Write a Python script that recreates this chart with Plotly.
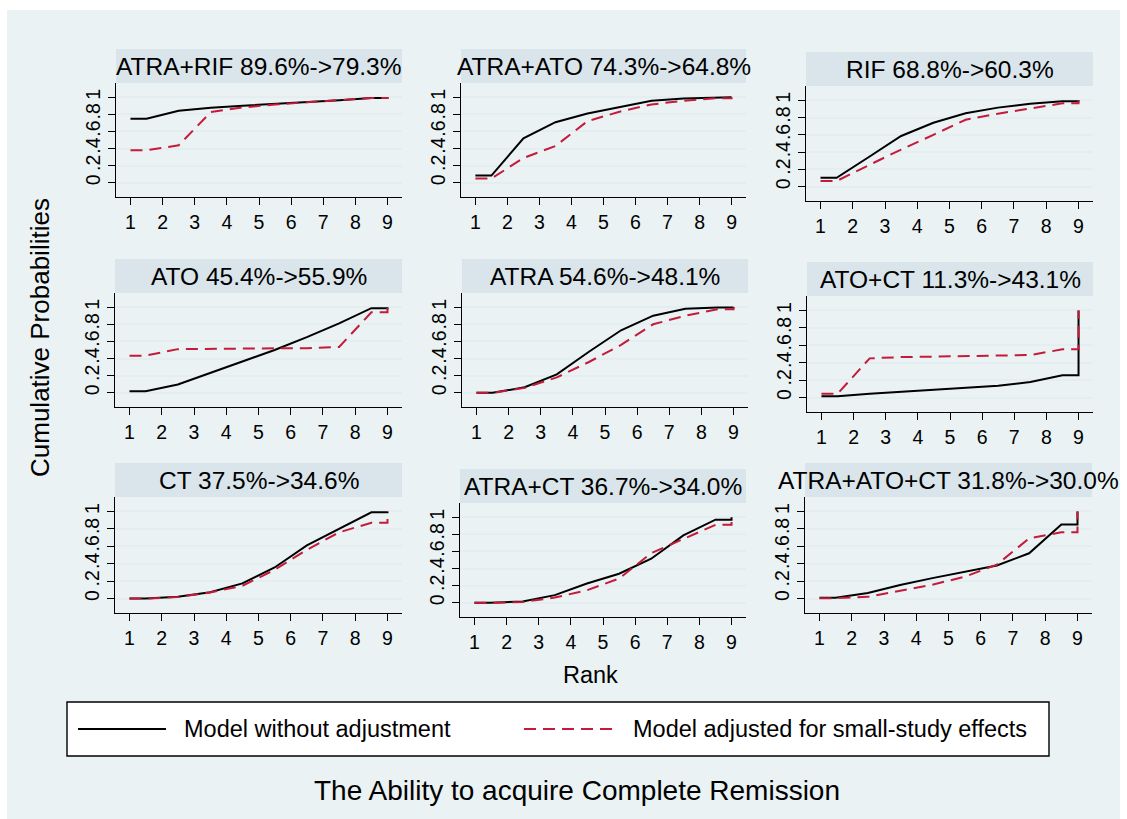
import plotly.graph_objects as go

W, H = 1127, 819

# ---------------- data ----------------
treatments = ["ATRA+RIF", "ATRA+ATO", "RIF", "ATO", "ATRA", "ATO+CT",
              "CT", "ATRA+CT", "ATRA+ATO+CT"]
sucra_unadjusted = [89.6, 74.3, 68.8, 45.4, 54.6, 11.3, 37.5, 36.7, 31.8]
sucra_adjusted = [79.3, 64.8, 60.3, 55.9, 48.1, 43.1, 34.6, 34.0, 30.0]

ranks = [1, 2, 3, 4, 5, 6, 7, 8, 9]
y_ticks = [0, 0.2, 0.4, 0.6, 0.8, 1]
y_tick_text = ["0", ".2", ".4", ".6", ".8", "1"]

series_names = ["Model without adjustment", "Model adjusted for small-study effects"]

# cumulative ranking probabilities at ranks 1..9
atra_rif_unadj = [0.748, 0.84, 0.876, 0.90, 0.92, 0.945, 0.965, 0.99, 1.0]
atra_rif_adj = [0.38, 0.438, 0.826, 0.88, 0.915, 0.94, 0.965, 0.99, 1.0]
atra_ato_unadj = [0.085, 0.52, 0.708, 0.81, 0.888, 0.958, 0.985, 0.996, 1.0]
atra_ato_adj = [0.05, 0.29, 0.43, 0.72, 0.83, 0.915, 0.958, 0.988, 1.0]
rif_unadj = [0.104, 0.344, 0.587, 0.74, 0.85, 0.915, 0.96, 0.99, 1.0]
rif_adj = [0.066, 0.25, 0.43, 0.60, 0.775, 0.845, 0.905, 0.965, 1.0]
ato_unadj = [0.02, 0.097, 0.23, 0.36, 0.50, 0.65, 0.81, 0.988, 1.0]
ato_adj = [0.434, 0.51, 0.515, 0.52, 0.52, 0.52, 0.535, 0.94, 1.0]
atra_unadj = [0.0, 0.065, 0.215, 0.48, 0.73, 0.90, 0.98, 0.996, 1.0]
atra_adj = [0.0, 0.058, 0.18, 0.36, 0.56, 0.80, 0.90, 0.975, 1.0]
ato_ct_unadj = [0.015, 0.045, 0.065, 0.09, 0.112, 0.135, 0.18, 0.255, 1.0]
ato_ct_adj = [0.043, 0.45, 0.465, 0.47, 0.475, 0.478, 0.488, 0.554, 1.0]
ct_unadj = [0.0, 0.02, 0.074, 0.174, 0.357, 0.61, 0.80, 0.99, 1.0]
ct_adj = [0.0, 0.018, 0.07, 0.147, 0.33, 0.56, 0.76, 0.87, 1.0]
atra_ct_unadj = [0.0, 0.016, 0.09, 0.225, 0.34, 0.515, 0.787, 0.97, 1.0]
atra_ct_adj = [0.0, 0.01, 0.062, 0.147, 0.283, 0.58, 0.745, 0.91, 1.0]
atra_ato_ct_unadj = [0.01, 0.065, 0.155, 0.235, 0.305, 0.38, 0.52, 0.85, 1.0]
atra_ato_ct_adj = [0.005, 0.02, 0.09, 0.16, 0.25, 0.39, 0.69, 0.76, 1.0]

unadjusted = [atra_rif_unadj, atra_ato_unadj, rif_unadj, ato_unadj, atra_unadj,
              ato_ct_unadj, ct_unadj, atra_ct_unadj, atra_ato_ct_unadj]
adjusted = [atra_rif_adj, atra_ato_adj, rif_adj, ato_adj, atra_adj,
            ato_ct_adj, ct_adj, atra_ct_adj, atra_ato_ct_adj]

# ---------------- styling / layout ----------------
BG = "#eaf2f3"
STRIP = "#d9e5ea"
GRID = "#e4eef1"
RED = "#c41a3b"
FONT = "Liberation Sans, Arial, sans-serif"
LW = 2
DASH = "12px,7px"

# plot-area pixel boxes (left, right, top, bottom)
panel_px = [(116, 402, 83, 197), (461, 746, 83, 197), (806, 1093, 86, 201),
            (115, 402, 293, 407), (462, 748, 293, 407), (807, 1093, 296, 412),
            (115, 402, 497, 613), (460, 746, 503, 617), (805, 1092, 497, 613)]
STRIP_H = 34


def px_x(v):
    return v / W


def px_y(v):
    return 1 - v / H


def stair(vals):
    # Stata-style cumulative-rank curve: c1 at 1 and 1.5, ck at k+0.5, c8 at 9, then c9 at 9
    xs = [ranks[0]] + [r + 0.5 for r in ranks[:-1]] + [ranks[-1], ranks[-1]]
    ys = [vals[0]] + list(vals[:-1]) + [vals[-2], vals[-1]]
    return xs, ys


fig = go.Figure()
shapes = []
annotations = []

# outer light background region
shapes.append(dict(type="rect", xref="paper", yref="paper", x0=px_x(7), x1=px_x(1120),
                   y0=px_y(819), y1=px_y(10), fillcolor=BG, line=dict(width=0), layer="below"))

for i, name in enumerate(treatments):
    sfx = "" if i == 0 else str(i + 1)
    l, r, t, b = panel_px[i]
    xs, ys = stair(unadjusted[i])
    fig.add_trace(go.Scatter(x=xs, y=ys, mode="lines", name=series_names[0],
                             line=dict(color="black", width=LW), showlegend=False,
                             xaxis="x" + sfx, yaxis="y" + sfx))
    xs2, ys2 = stair(adjusted[i])
    fig.add_trace(go.Scatter(x=xs2, y=ys2, mode="lines", name=series_names[1],
                             line=dict(color=RED, width=LW, dash=DASH), showlegend=False,
                             xaxis="x" + sfx, yaxis="y" + sfx))
    fig.layout["xaxis" + sfx] = dict(
        domain=[px_x(l), px_x(r)], anchor="y" + sfx, range=[0.55, 9.45],
        tickvals=ranks, showgrid=False, zeroline=False, showline=True,
        linecolor="black", linewidth=1.4, ticks="outside", ticklen=7,
        tickcolor="black", tickwidth=1.3, tickfont=dict(size=19.5, color="black"),
        fixedrange=True)
    fig.layout["yaxis" + sfx] = dict(
        domain=[px_y(b), px_y(t)], anchor="x" + sfx, range=[-0.165, 1.165],
        tickvals=y_ticks, ticktext=y_tick_text, tickangle=-90,
        showgrid=True, gridcolor=GRID, gridwidth=2, zeroline=False, showline=True,
        linecolor="black", linewidth=1.4, ticks="outside", ticklen=7,
        tickcolor="black", tickwidth=1.3, tickfont=dict(size=19.5, color="black"),
        fixedrange=True)
    # title strip
    shapes.append(dict(type="rect", xref="paper", yref="paper",
                       x0=px_x(l), x1=px_x(r), y0=px_y(t), y1=px_y(t - STRIP_H),
                       fillcolor=STRIP, line=dict(width=0), layer="below"))
    annotations.append(dict(
        text=f"{name} {sucra_unadjusted[i]:.1f}%->{sucra_adjusted[i]:.1f}%",
        xref="paper", yref="paper", x=px_x((l + r) / 2), y=px_y(t - STRIP_H / 2),
        xanchor="center", yanchor="middle", showarrow=False,
        font=dict(size=24.5, color="black")))

# axis titles and note
annotations.append(dict(text="Cumulative Probabilities", xref="paper", yref="paper",
                        x=px_x(40), y=px_y(338), textangle=-90, showarrow=False,
                        xanchor="center", yanchor="middle", font=dict(size=26, color="black")))
annotations.append(dict(text="Rank", xref="paper", yref="paper", x=px_x(590), y=px_y(675),
                        showarrow=False, xanchor="center", yanchor="middle",
                        font=dict(size=23.5, color="black")))
annotations.append(dict(text="The Ability to acquire Complete Remission", xref="paper", yref="paper",
                        x=px_x(577), y=px_y(790), showarrow=False, xanchor="center",
                        yanchor="middle", font=dict(size=28, color="black")))

# legend (drawn manually to match long sample lines)
shapes.append(dict(type="rect", xref="paper", yref="paper", x0=px_x(67), x1=px_x(1049),
                   y0=px_y(756), y1=px_y(702), fillcolor="white",
                   line=dict(color="black", width=1.4)))
shapes.append(dict(type="line", xref="paper", yref="paper", x0=px_x(78), x1=px_x(166),
                   y0=px_y(729), y1=px_y(729), line=dict(color="black", width=LW)))
shapes.append(dict(type="line", xref="paper", yref="paper", x0=px_x(524), x1=px_x(612),
                   y0=px_y(729), y1=px_y(729), line=dict(color=RED, width=LW, dash=DASH)))
annotations.append(dict(text=series_names[0], xref="paper", yref="paper", x=px_x(182), y=px_y(729),
                        xanchor="left", yanchor="middle", showarrow=False,
                        font=dict(size=23.5, color="black")))
annotations.append(dict(text=series_names[1], xref="paper", yref="paper", x=px_x(631), y=px_y(729),
                        xanchor="left", yanchor="middle", showarrow=False,
                        font=dict(size=23.5, color="black")))

fig.update_layout(
    width=W, height=H, margin=dict(l=0, r=0, t=0, b=0),
    paper_bgcolor="white", plot_bgcolor="white",
    font=dict(family=FONT, color="black"),
    shapes=shapes, annotations=annotations, showlegend=False,
)

fig.write_html("out.html", config={"displayModeBar": False})
